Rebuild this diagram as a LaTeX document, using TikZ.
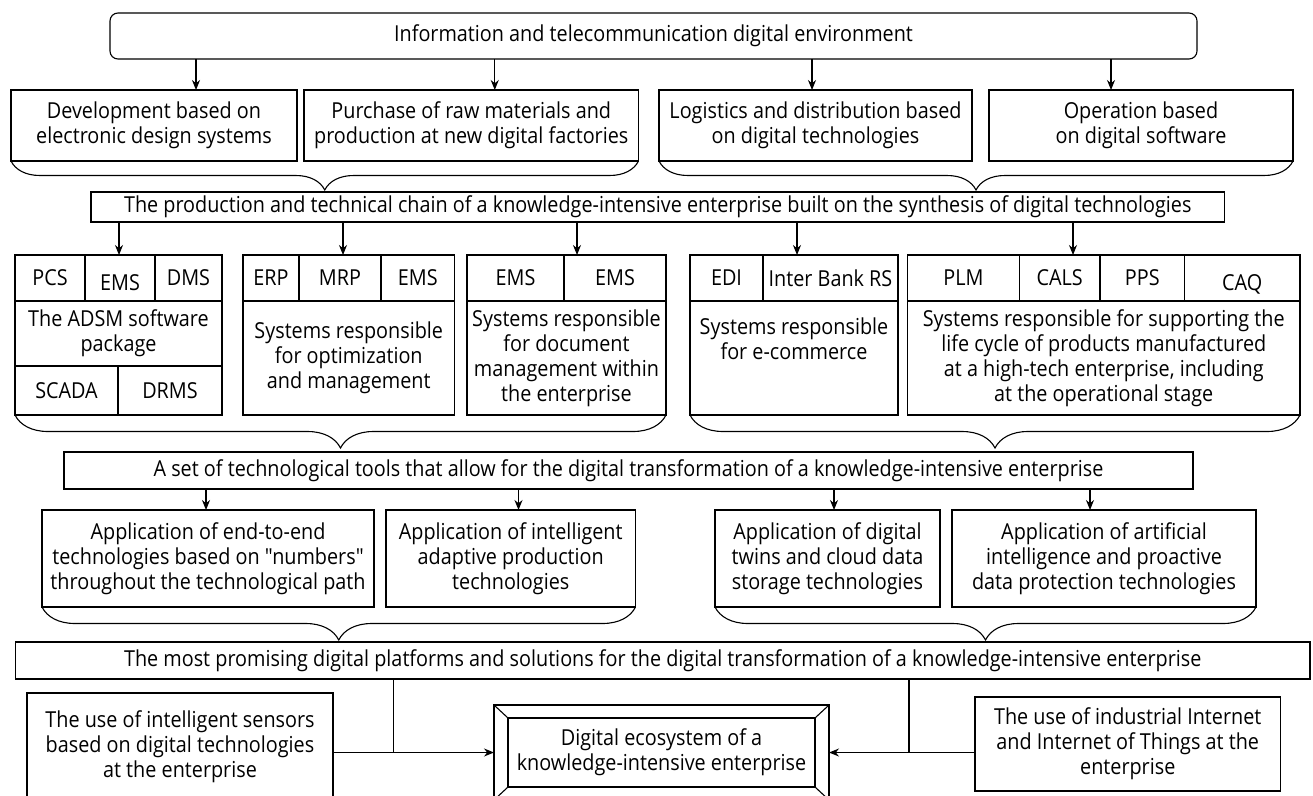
\documentclass[tikz,border=0pt]{standalone}
\usepackage{fontspec}
\setmainfont{Open Sans}[FakeStretch=0.9, Ligatures=TeXOff]
\usetikzlibrary{arrows.meta, positioning, calc, decorations.pathreplacing}
\tikzset{
  box/.style={draw, line width=1.1pt, outer sep=0pt, inner sep=1pt, align=center, font=\fontsize{22}{25}\selectfont},
  arr/.style={-{Stealth[length=10pt,width=8pt]}, line width=1.1pt},
  grpbrace/.style={decorate, decoration={brace, mirror, amplitude=#1}, line width=1.1pt},
  grpbrace/.default=30pt
}

\begin{document}
\begin{tikzpicture}[x=1pt, y=-1pt]
    \useasboundingbox (0,0) rectangle (1313,795);
    \node[box, rounded corners=8pt, minimum width=1087, minimum height=46] (env) at (653.5,36) {Information and telecommunication digital environment};

    \node[box, minimum width=286, minimum height=71] (dev) at (154,125.5) {Development based on\\electronic design systems};
    \node[box, minimum width=334.5, minimum height=71] (buy) at (471.25,125.5) {Purchase of raw materials and\\production at new digital factories};
    \node[box, minimum width=313, minimum height=71] (log) at (815.5,125.5) {Logistics and distribution based\\on digital technologies};
    \node[box, minimum width=304, minimum height=71] (opr) at (1141,125.5) {Operation based\\on digital software};
    \foreach \n/\s in {dev/42, buy/23.5, log/-3.5, opr/-30} {
      \coordinate (t) at ([xshift=\s pt]\n.north);
      \draw[arr] (env.south -| t) -- (t);
    }
    \draw[grpbrace=29pt] (dev.south west) -- (buy.south east);
    \draw[grpbrace=29pt] (log.south west) -- (opr.south east);

    \node[box, minimum width=1133.5, minimum height=30] (chain) at (657.75,207) {The production and technical chain of a knowledge-intensive enterprise built on the synthesis of digital technologies};

    % ADSM group
    \node[box, minimum width=70, minimum height=46] (pcs) at (50,278) {PCS};
    \node[box, minimum width=70, minimum height=46, right=0pt of pcs] (emsa) {\raisebox{-12pt}[0pt][0pt]{EMS}};
    \node[box, minimum width=67, minimum height=46, right=0pt of emsa] (dms) {DMS};
    \node[box, minimum width=207, minimum height=65, anchor=north west] (adsm) at (pcs.south west) {The ADSM software\\package};
    \node[box, minimum width=103, minimum height=49, anchor=north west] (scada) at (adsm.south west) {SCADA};
    \node[box, minimum width=104, minimum height=49, right=0pt of scada] (drms) {DRMS};

    % ERP group
    \node[box, minimum width=56, minimum height=46] (erp) at (271,278) {ERP};
    \node[box, minimum width=82, minimum height=46, right=0pt of erp] (mrp) {MRP};
    \node[box, minimum width=73.5, minimum height=46, right=0pt of mrp] (emsb) {EMS};
    \node[box, minimum width=211.5, minimum height=114, anchor=north west] (opt) at (erp.south west) {Systems responsible\\for optimization\\and management};

    % document group
    \node[box, minimum width=97, minimum height=46] (emsc) at (515.5,278) {EMS};
    \node[box, minimum width=102, minimum height=46, right=0pt of emsc] (emsd) {EMS};
    \node[box, minimum width=199, minimum height=114, anchor=north west] (doc) at (emsc.south west) {Systems responsible\\for document\\management within\\the enterprise};

    % e-commerce group
    \node[box, minimum width=73, minimum height=46] (edi) at (726.5,278) {EDI};
    \node[box, minimum width=135, minimum height=46, right=0pt of edi] (bank) {Inter Bank RS};
    \node[box, minimum width=208, minimum height=114, anchor=north west] (ecom) at (edi.south west) {};
    \node[font=\fontsize{22}{25}\selectfont, align=center, below=13pt of ecom.north] (ecomtxt) {Systems responsible\\for e-commerce};

    % life cycle group
    \node[box, minimum width=112, minimum height=46] (plm) at (963.5,278) {PLM};
    \node[box, minimum width=80.5, minimum height=46, right=0pt of plm] (cals) {CALS};
    \node[box, minimum width=84.5, minimum height=46, right=0pt of cals] (pps) {PPS};
    \node[box, minimum width=115.5, minimum height=46, right=0pt of pps] (caq) {\raisebox{-12pt}[0pt][0pt]{CAQ}};
    \node[box, minimum width=392.5, minimum height=114, anchor=north west] (life) at (plm.south west) {Systems responsible for supporting the\\life cycle of products manufactured\\at a high-tech enterprise, including\\at the operational stage};

    \foreach \n/\s in {emsa/-1, mrp/3, emsd/-38, bank/-33.5, cals/13.25} {
      \coordinate (t) at ([xshift=\s pt]\n.north);
      \draw[arr] (chain.south -| t) -- (t);
    }
    \draw[grpbrace=33pt] (scada.south west) -- (doc.south east);
    \draw[grpbrace=33pt] (ecom.south west) -- (life.south east);

    \node[box, minimum width=1129, minimum height=37] (tools) at (628.5,470.5) {A set of technological tools that allow for the digital transformation of a knowledge-intensive enterprise};

    \node[box, minimum width=332, minimum height=97] (e2e) at (208,558.5) {Application of end-to-end\\technologies based on "numbers"\\throughout the technological path};
    \node[box, minimum width=249.5, minimum height=97] (adap) at (510.75,558.5) {Application of intelligent\\adaptive production\\technologies};
    \node[box, minimum width=225, minimum height=97] (twin) at (827.5,558.5) {Application of digital\\twins and cloud data\\storage technologies};
    \node[box, minimum width=304, minimum height=97] (ai) at (1104,558.5) {Application of artificial\\intelligence and proactive\\data protection technologies};
    \foreach \n/\s in {e2e/-2, adap/7.75, twin/6.5, ai/-14} {
      \coordinate (t) at ([xshift=\s pt]\n.north);
      \draw[arr] (tools.south -| t) -- (t);
    }
    \draw[grpbrace=33pt] (e2e.south west) -- (adap.south east);
    \draw[grpbrace=33pt] (twin.south west) -- (ai.south east);

    \node[box, minimum width=1294.5, minimum height=37] (prom) at (662.75,660.5) {The most promising digital platforms and solutions for the digital transformation of a knowledge-intensive enterprise};

    \node[box, minimum width=306, minimum height=107] (sens) at (180,746.5) {The use of intelligent sensors\\based on digital technologies\\at the enterprise};
    \node[box, minimum width=335, minimum height=95] (eco) at (661.5,752.5) {Digital ecosystem of a\\knowledge-intensive enterprise};
    \draw[line width=1.1pt] ([shift={(14,13)}]eco.north west) rectangle ([shift={(-14,-13)}]eco.south east);
    \foreach \a/\dx/\dy in {north west/14/13, north east/-14/13, south west/14/-13, south east/-14/-13}
      \draw[line width=1.1pt] (eco.\a) -- ++(\dx,\dy);
    \node[box, minimum width=305.5, minimum height=94] (iot) at (1127.75,744) {The use of industrial Internet\\and Internet of Things at the\\enterprise};

    \coordinate (jl) at ($(sens.east |- eco.west)!0.376!(eco.west)$);
    \coordinate (jr) at ($(eco.east)!0.548!(iot.west |- eco.east)$);
    \draw[line width=1.1pt] (prom.south -| jl) -- (jl);
    \draw[line width=1.1pt] (prom.south -| jr) -- (jr);
    \draw[arr] (sens.east |- eco.west) -- (eco.west);
    \draw[arr] (iot.west |- eco.east) -- (eco.east);
  \end{tikzpicture}
\end{document}
